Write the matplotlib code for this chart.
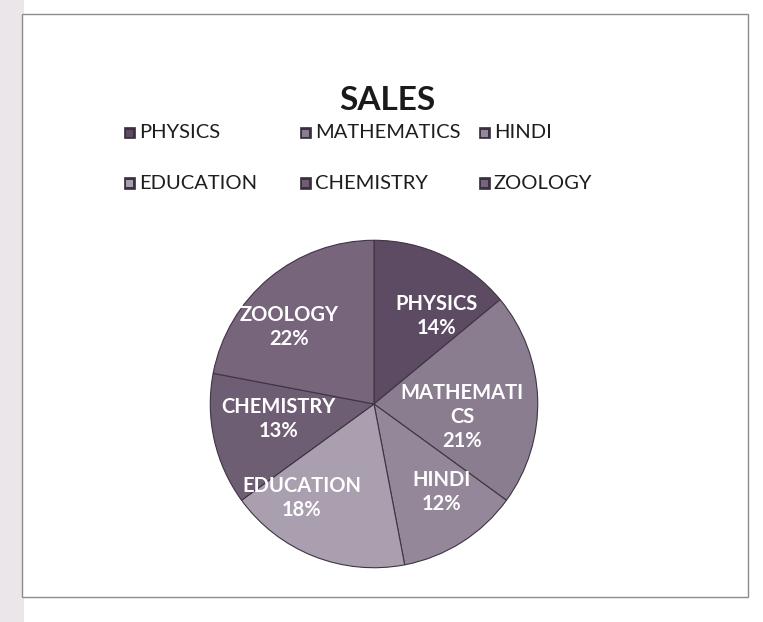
import numpy as np
import matplotlib
matplotlib.use("Agg")
import matplotlib.pyplot as plt
from matplotlib.patches import Rectangle

subjects = ["PHYSICS", "MATHEMATICS", "HINDI", "EDUCATION", "CHEMISTRY", "ZOOLOGY"]
sales_pct = [14, 21, 12, 18, 13, 22]
slice_names = ["PHYSICS", "MATHEMATI\nCS", "HINDI", "EDUCATION", "CHEMISTRY", "ZOOLOGY"]
slice_colors = ["#5c4b62", "#8b7d90", "#948799", "#aa9fae", "#6e5e73", "#76657b"]

# legend layout: 2 rows x 3 columns, order as in the picture
legend_rows = [["PHYSICS", "MATHEMATICS", "HINDI"],
               ["EDUCATION", "CHEMISTRY", "ZOOLOGY"]]

plt.rcParams['font.family'] = ['Lato', 'DejaVu Sans']

W, H = 763, 622
fig = plt.figure(figsize=(W / 100, H / 100), dpi=100)
fig.patch.set_facecolor("white")

def px(x, y):
    # pixel coords (top-left origin) -> figure fraction
    return x / W, 1 - y / H

# photo edge on the left and the chart border
fig.patches.append(Rectangle((0, 0), 24 / W, 1, transform=fig.transFigure,
                             facecolor="#ebe6e9", edgecolor="none", zorder=-2))
x0, y0 = px(22, 597)
x1, y1 = px(748, 14)
fig.patches.append(Rectangle((x0, y0), x1 - x0, y1 - y0, transform=fig.transFigure,
                             facecolor="white", edgecolor="#8c8c8c", lw=1.0, zorder=-1))

# title
tx, ty = px(387, 100)
fig.text(tx, ty, "SALES", ha="center", va="center", fontsize=24,
         fontweight="bold", color="#1a1a1a")

# pie
cx, cy = 374, 404
r = 167
ax = fig.add_axes([(cx - r) / W, 1 - (cy + r) / H, 2 * r / W, 2 * r / H])
ax.patch.set_visible(False)
labels = ["%s\n%d%%" % (n, v) for n, v in zip(slice_names, sales_pct)]
wedges, texts = ax.pie(sales_pct, labels=labels, colors=slice_colors,
                       startangle=90, counterclock=False, labeldistance=0.66,
                       wedgeprops=dict(edgecolor="#3f3444", linewidth=0.8),
                       textprops=dict(color="white", fontweight="bold",
                                      fontsize=14.5, ha="center", va="center",
                                      linespacing=1.25))
ax.set_xlim(-1.02, 1.02)
ax.set_ylim(-1.02, 1.02)
ax.set_aspect("equal")

# small nudges like Excel's best-fit label placement
nudge = {"PHYSICS": (0.1, -0.06), "EDUCATION": (-0.2, 0.04),
         "ZOOLOGY": (-0.1, -0.04), "MATHEMATICS": (-0.12, -0.1),
         "CHEMISTRY": (0.06, 0.05), "HINDI": (0.06, 0.02)}
for name, t in zip(subjects, texts):
    x, y = t.get_position()
    dx, dy = nudge[name]
    t.set_position((x + dx, y + dy))

# legend
col_x = [124, 300, 479]
row_y = [133, 183]
sq = 11
for ri, row in enumerate(legend_rows):
    for ci, name in enumerate(row):
        col = wedges[subjects.index(name)].get_facecolor()
        lx, ly = px(col_x[ci], row_y[ri] + sq / 2)
        fig.patches.append(Rectangle((lx, ly), sq / W, sq / H, transform=fig.transFigure,
                                     facecolor="#3b3040", edgecolor="#3b3040", lw=0.5))
        fig.patches.append(Rectangle((lx + 2 / W, ly + 2 / H), (sq - 4) / W, (sq - 4) / H,
                                     transform=fig.transFigure, facecolor=col,
                                     edgecolor="none"))
        tx, ty = px(col_x[ci] + sq + 4, row_y[ri])
        fig.text(tx, ty, name, ha="left", va="center", fontsize=14.5, color="#1e1e1e")

fig.savefig("out.png", dpi=100)
